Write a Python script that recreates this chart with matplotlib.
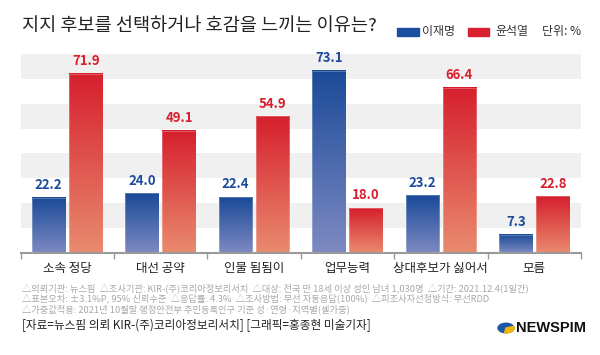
import numpy as np
import matplotlib
matplotlib.use("Agg")
import matplotlib.pyplot as plt
from matplotlib.colors import LinearSegmentedColormap
from matplotlib.patches import Rectangle, Circle, Wedge

plt.rcParams['font.family'] = ['Noto Sans CJK KR', 'DejaVu Sans']

# dati
categorie = ['소속 정당', '대선 공약', '인물 됨됨이', '업무능력', '상대후보가 싫어서', '모름']
lee = [22.2, 24.0, 22.4, 73.1, 23.2, 7.3]
yoon = [71.9, 49.1, 54.9, 18.0, 66.4, 22.8]
serie = ['이재명', '윤석열']

titolo = '지지 후보를 선택하거나 호감을 느끼는 이유는?'
note = [
    '△의뢰기관: 뉴스핌  △조사기관: KIR-(주)코리아정보리서치  △대상: 전국 만 18세 이상 성인 남녀 1,030명  △기간: 2021.12.4(1일간)',
    '△표본오차: ±3.1%P, 95% 신뢰수준  △응답률: 4.3%  △조사방법: 무선 자동응답(100%)  △피조사자선정방식: 무선RDD',
    '△가중값적용: 2021년 10월말 행정안전부 주민등록인구 기준 성·연령·지역별(셀가중)',
]
fonte = '[자료=뉴스핌 의뢰 KIR-(주)코리아정보리서치] [그래픽=홍종현 미술기자]'

blu_top, blu_bot = '#1a4a98', '#7e8ac2'
ros_top, ros_bot = '#d61f2d', '#e98b6f'

fig = plt.figure(figsize=(6, 3.55), dpi=100)
ax = fig.add_axes([20.5 / 600, 1 - 253 / 355, 560.5 / 600, (253 - 53.8) / 355])

# fasce grigie alternate
for y0 in range(10, 80, 20):
    ax.axhspan(y0, y0 + 10, color='#f0f0f0', zorder=0, lw=0)

x = np.arange(len(categorie))
w = 0.36
off = 0.198
grad = np.linspace(0, 1, 256).reshape(-1, 1)

def barre_sfumate(xpos, valori, c_top, c_bot, col_testo):
    cmap = LinearSegmentedColormap.from_list('g', [c_bot, c_top])
    bars = ax.bar(xpos, valori, w, color='none', edgecolor='none', zorder=2)
    for b, v in zip(bars, valori):
        x0 = b.get_x()
        ax.imshow(grad, extent=[x0, x0 + b.get_width(), 0, b.get_height()],
                  origin='lower', aspect='auto', cmap=cmap, zorder=2)
        ax.add_patch(Rectangle((x0, 0), b.get_width(), b.get_height(), fill=False,
                               edgecolor='white', lw=0.6, alpha=0.3, zorder=3))
        ax.text(b.get_x() + b.get_width() / 2, v + 2.3, f'{v:.1f}', ha='center', va='bottom',
                color=col_testo, fontsize=9.5, fontweight='bold', zorder=4)

barre_sfumate(x - off, lee, blu_top, blu_bot, '#1d4b9b')
barre_sfumate(x + off, yoon, ros_top, ros_bot, '#d81f2e')

ax.set_xlim(-0.5, len(categorie) - 0.5)
ax.set_ylim(0, 80)
for s in ['top', 'right', 'left']:
    ax.spines[s].set_visible(False)
ax.spines['bottom'].set_color('#9a9a9a')
ax.spines['bottom'].set_linewidth(1.5)
ax.set_yticks([])
ax.set_xticks(np.arange(-0.5, len(categorie), 1.0))
ax.set_xticklabels([])
ax.tick_params(axis='x', length=4, width=1, color='#9a9a9a')
for i, c in enumerate(categorie):
    ax.text(i, -3.8, c, ha='center', va='top', fontsize=9, fontweight='medium', color='#222222')

# titolo e legenda
fig.text(22 / 600, 1 - 26 / 355, titolo, fontsize=13.4, va='center', ha='left', color='#222222')
fig.patches.append(Rectangle((397 / 600, 1 - 36 / 355), 22 / 600, 8 / 355, color='#1a4fa0',
                             transform=fig.transFigure, figure=fig))
fig.text(422 / 600, 1 - 32 / 355, serie[0], fontsize=8.6, va='center', color='#333333')
fig.patches.append(Rectangle((468 / 600, 1 - 36 / 355), 21 / 600, 8 / 355, color='#d9202f',
                             transform=fig.transFigure, figure=fig))
fig.text(495 / 600, 1 - 32 / 355, serie[1], fontsize=8.6, va='center', color='#333333')
fig.text(542 / 600, 1 - 32 / 355, '단위: %', fontsize=8.6, va='center', color='#333333')

# note
for k, riga in enumerate(note):
    fig.text(22 / 600, 1 - (288 + 10.5 * k) / 355, riga, fontsize=6.7, va='center',
             color='#a8a8a8')
fig.text(22 / 600, 1 - 325 / 355, fonte, fontsize=8.4, va='center', color='#222222')

# logo
lx, ly = 506, 328
cx, cy = lx / 600, 1 - ly / 355
fig.patches.append(Circle((cx, cy), 8 / 600, color='#1d58a8',
                          transform=fig.transFigure, figure=fig))
fig.patches.append(Wedge((cx, cy), 8 / 600, -100, 20, color='#f2b400',
                         transform=fig.transFigure, figure=fig))
fig.text(516 / 600, 1 - ly / 355, 'NEWSPIM', fontsize=10.5, fontweight='bold', va='center',
         family='Liberation Sans', color='#111111')

fig.savefig('out.png', dpi=100)
